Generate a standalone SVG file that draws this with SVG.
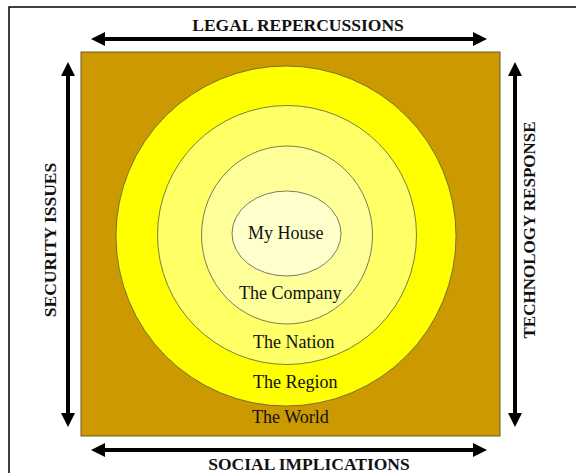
<svg xmlns="http://www.w3.org/2000/svg" width="576" height="473" viewBox="0 0 576 473">
  <style>
    .lbl { font-family: "Liberation Serif", "Times New Roman", serif; font-size: 18px; fill: #111; }
    .side { font-family: "Liberation Serif", "Times New Roman", serif; font-size: 17.5px; font-weight: bold; fill: #111; text-anchor: middle; }
    .ring { stroke: #5a5a4a; stroke-width: 0.8; }
    .arr { stroke: #000; stroke-width: 4; fill: none; marker-start: url(#ah); marker-end: url(#ah); }
  </style>
  <defs>
    <marker id="ah" viewBox="0 0 14 14" refX="0" refY="7" markerWidth="14" markerHeight="14" markerUnits="userSpaceOnUse" orient="auto-start-reverse">
      <path d="M0,0 L14,7 L0,14 z" fill="#000"/>
    </marker>
  </defs>
  <rect x="0" y="0" width="576" height="473" fill="#fff"/>
  <path d="M9,473 L9,7 L576,7" fill="none" stroke="#000" stroke-width="1.5"/>

  <g id="world">
    <rect x="81" y="52" width="419" height="384" fill="#CC9900" stroke="#6b5a2a" stroke-width="1"/>
    <text class="lbl" x="252" y="423">The World</text>
  </g>
  <g id="region">
    <circle class="ring" cx="286" cy="236" r="170" fill="#FFFF00"/>
    <text class="lbl" x="253" y="388">The Region</text>
  </g>
  <g id="nation">
    <circle class="ring" cx="287" cy="235" r="129.5" fill="#FFFF66"/>
    <text class="lbl" x="253" y="348">The Nation</text>
  </g>
  <g id="company">
    <ellipse class="ring" cx="287" cy="235" rx="85.5" ry="89" fill="#FFFF99"/>
    <text class="lbl" x="239" y="299">The Company</text>
  </g>
  <g id="house">
    <ellipse class="ring" cx="286.5" cy="233.5" rx="54.5" ry="42.5" fill="#FFFFCC"/>
    <text class="lbl" x="248" y="239">My House</text>
  </g>

  <g id="connectors">
    <line class="arr" x1="105" y1="39" x2="473" y2="39"/>
    <line class="arr" x1="105" y1="450" x2="473" y2="450"/>
    <line class="arr" x1="68" y1="76" x2="68" y2="413"/>
    <line class="arr" x1="515" y1="76" x2="515" y2="413"/>
  </g>

  <g id="labels">
    <text class="side" x="298" y="31">LEGAL REPERCUSSIONS</text>
    <text class="side" x="309" y="470">SOCIAL IMPLICATIONS</text>
    <text class="side" transform="translate(56,240) rotate(-90)">SECURITY ISSUES</text>
    <text class="side" style="font-size:17px" transform="translate(535,230) rotate(-90)">TECHNOLOGY RESPONSE</text>
  </g>
</svg>
